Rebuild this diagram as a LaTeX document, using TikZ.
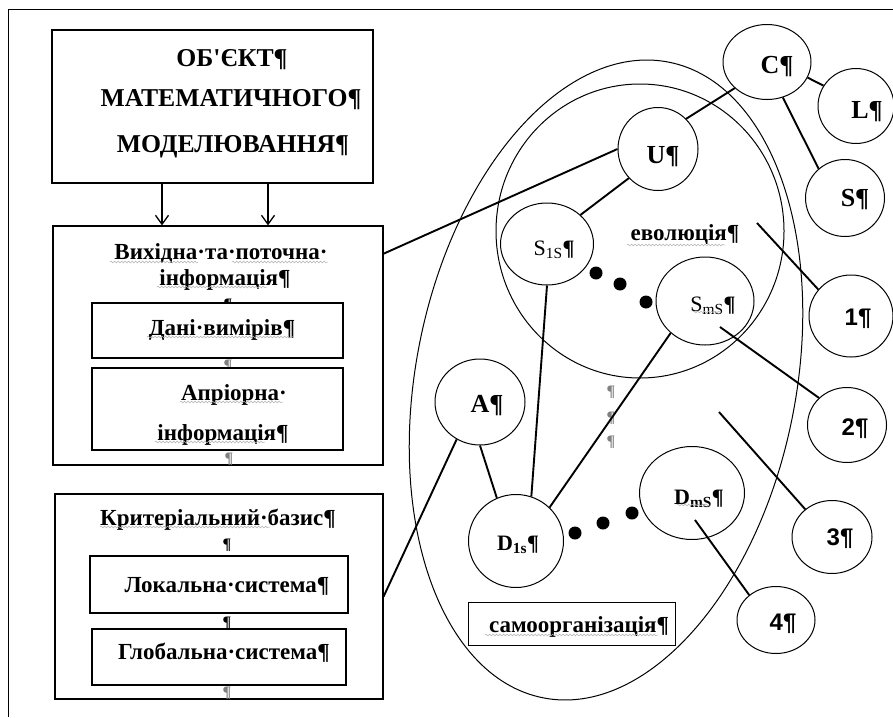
\documentclass[tikz,border=0pt]{standalone}
\usepackage{fontspec}
\setmainfont{Liberation Serif}[Ligatures=TeXOff]
\newfontfamily\sansnum{Liberation Sans}
\usetikzlibrary{arrows.meta,shapes.geometric,decorations.pathmorphing}
\begin{document}
\begin{tikzpicture}[x=1pt,y=-1pt,
  box/.style={draw,line width=1.2pt,fill=white,rectangle,inner sep=0pt},
  el/.style={draw,ellipse,line width=1pt,inner sep=0pt},
  txt/.style={font=\fontsize{23}{25}\selectfont\bfseries,inner sep=0pt,text height=15pt,text depth=0pt},
  sub/.style={font=\fontsize{22}{24}\selectfont\bfseries,inner sep=0pt,text height=15pt,text depth=0pt},
  lab/.style={font=\fontsize{26}{28}\selectfont\bfseries,inner sep=0pt,text height=17pt,text depth=0pt},
  ttl/.style={font=\fontsize{25.7}{27}\selectfont\bfseries,inner sep=0pt,text height=17pt,text depth=0pt},
  num/.style={font=\fontsize{24}{26}\selectfont\sansnum\bfseries,inner sep=0pt,text height=17pt,text depth=0pt},
  conn/.style={line width=1.9pt},
  thinline/.style={line width=1pt},
  blob/.style={circle,fill=black,inner sep=0pt,minimum size=13pt},
  arr/.style={line width=1.3pt,-{Straight Barb[length=9pt,width=13pt,line width=1.3pt]}},
  wav/.style={draw=gray!60,line width=0.5pt,decorate,decoration={snake,amplitude=0.9pt,segment length=3.5pt}},
  pil/.style={font=\fontsize{16}{16}\selectfont\bfseries,text=gray,inner sep=0pt}
]
\useasboundingbox (0,0) rectangle (893,717);
\draw[line width=1pt] (8,717) -- (8,10) -- (893,10);

% ---------- left column ----------
\node[box,minimum width=321pt,minimum height=153pt] (b1) at (212.5,106.5) {};
\node[ttl] (t1a) at (232,58) {ОБ'ЄКТ¶};
\node[ttl] (t1b) at (231,98) {МАТЕМАТИЧНОГО¶};
\node[ttl] (t1c) at (233,144) {МОДЕЛЮВАННЯ¶};

\node[box,minimum width=330pt,minimum height=239pt] (b2) at (218,345.5) {};
\draw[arr] ([xshift=-50.5pt]b1.south) -- ([xshift=-56pt]b2.north);
\draw[arr] ([xshift=55.5pt]b1.south) -- ([xshift=50pt]b2.north);
\node[txt] (t2a) at (221,252) {Вихідна·та·поточна·};
\node[txt] (t2b) at (225,278) {інформація¶};
\node[pil,text=black] (p1) at (228,305) {¶};
\node[pil] (p2) at (228,366) {¶};
\node[pil] (p3) at (229,459) {¶};
\node[box,minimum width=251pt,minimum height=55pt] (b2a) at (217.5,330.5) {};
\node[txt] (t2c) at (222,328) {Дані·вимірів¶};
\node[box,minimum width=251pt,minimum height=82pt] (b2b) at (217.5,409) {};
\node[txt] (t2d) at (234,393) {Апріорна·};
\node[txt] (t2e) at (223,433) {інформація¶};

\node[box,minimum width=328pt,minimum height=205pt] (b3) at (219,596.5) {};
\node[txt] (t3a) at (218,518) {Критеріальний·базис¶};
\node[pil,text=black] (p4) at (227,545) {¶};
\node[pil,text=black] (p5) at (227,623) {¶};
\node[pil] (p6) at (227,693) {¶};
\node[box,minimum width=258pt,minimum height=57pt] (b3a) at (219,584.5) {};
\node[txt] (t3b) at (227,585) {Локальна·система¶};
\node[box,minimum width=254pt,minimum height=56pt] (b3b) at (219,657) {};
\node[txt] (t3c) at (224,652) {Глобальна·система¶};

% spell-check underlines
\draw[wav] (110,262) -- (198,262);
\draw[wav] (232,262) -- (328,262);
\draw[wav] (157,287) -- (267,287);
\draw[wav] (147,337) -- (293,337);
\draw[wav] (180,402) -- (283,402);
\draw[wav] (155,442) -- (265,442);
\draw[wav] (100,527) -- (270,527);

% ---------- right part ----------
\draw[thinline,rotate around={-11.2:(606,380)}] (606,380) ellipse (190pt and 324pt);
\draw[thinline] (640,231) ellipse (144pt and 147pt);

\node[el,minimum width=88pt,minimum height=75pt] (C) at (767,62) {};
\node[el,minimum width=76pt,minimum height=75pt] (L) at (856,106) {};
\node[el,minimum width=79pt,minimum height=77pt] (S) at (845,198) {};
\node[el,minimum width=80pt,minimum height=83pt] (U) at (658,149) {};
\node[el,minimum width=93pt,minimum height=82pt] (S1) at (547,244) {};
\node[el,minimum width=98pt,minimum height=88pt] (Sm) at (705,301) {};
\node[el,minimum width=84pt,minimum height=82pt] (N1) at (851,316) {};
\node[el,minimum width=79pt,minimum height=75pt] (N2) at (847,425) {};
\node[el,minimum width=90pt,minimum height=86pt] (A) at (480,402) {};
\node[el,minimum width=95pt,minimum height=93pt] (D1) at (516,541) {};
\node[el,minimum width=105pt,minimum height=93pt] (Dm) at (692,493) {};
\node[el,minimum width=80pt,minimum height=73pt] (N3) at (832,537) {};
\node[el,minimum width=78pt,minimum height=67pt] (N4) at (776,620) {};
\node[box,line width=1pt,minimum width=207pt,minimum height=43pt] (sam) at (571.5,623.5) {};

\node[lab] (tC) at (777,65) {C¶};
\node[lab] (tL) at (867,110) {L¶};
\node[lab] (tS) at (855,198) {S¶};
\node[lab] (tU) at (663,155) {U¶};
\node[sub] (tS1) at (554,248) {\mdseries S\textsubscript{1S}\bfseries¶};
\node[sub] (tSm) at (713,304) {\mdseries S\textsubscript{mS}\bfseries¶};
\node[lab] (tA) at (487,404) {A¶};
\node[sub] (tD1) at (518,543) {D\textsubscript{1s}¶};
\node[sub] (tDm) at (699,497) {D\textsubscript{mS}¶};
\node[num] (t1) at (858,317) {1¶};
\node[num] (t2) at (855,427) {2¶};
\node[num] (t3) at (840,537) {3¶};
\node[num] (t4) at (783,622) {4¶};
\node[txt] (tev) at (685,233) {еволюція¶};
\node[txt] (tsam) at (579,625) {самоорганізація¶};
\node[pil] (q1) at (611,392) {¶};
\node[pil] (q2) at (611,418) {¶};
\node[pil] (q3) at (611,442) {¶};

\draw[wav] (627,245) -- (725,245);
\draw[wav] (485,635) -- (658,635);
\draw[wav] (693,312) -- (720,312);
\draw[wav] (677,505) -- (710,505);

% free ends
\coordinate (ev) at (757,223);
\coordinate (sm2) at (720,327);
\coordinate (t3s) at (719,412);
\coordinate (dm4) at (695,520);

% connectors
\draw[conn] (b2.29.5) -- (U.west);
\draw[conn] (b3.east) -- (A.238.6);
\draw[conn] (C.219.5) -- (U.47);
\draw[conn] (C.-21) -- (L.148.5);
\draw[conn] (C.-66) -- (S.132);
\draw[conn] (U.225) -- (S1.41);
\draw[conn] (ev) -- (N1.141);
\draw[conn] (sm2) -- (N2.136);
\draw[conn] (t3s) -- (N3.134);
\draw[conn] (dm4) -- (N4.137);
\draw[conn] (S1.south) -- (D1.71);
\draw[conn] (Sm.223) -- (D1.45);
\draw[conn] (A.south) -- (D1.114);

% dots
\node[blob] (d1) at (596,273) {};
\node[blob] (d2) at (620,284) {};
\node[blob] (d3) at (646,302) {};
\node[blob] (d4) at (575,533) {};
\node[blob] (d5) at (603,523) {};
\node[blob] (d6) at (632,513) {};
\end{tikzpicture}
\end{document}
